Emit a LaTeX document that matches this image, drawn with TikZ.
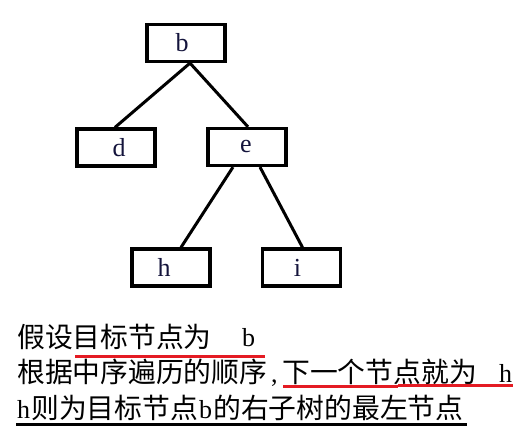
\documentclass[tikz,border=0pt]{standalone}
\usepackage{fontspec}
\setmainfont{Liberation Serif}
\newfontfamily\cjk{Noto Sans CJK SC}
\definecolor{ulred}{RGB}{228,27,35}
\definecolor{lettercol}{RGB}{20,20,60}
\newcommand{\nudge}[2]{\hspace*{#1}\hspace*{#1}#2}
\begin{document}
\begin{tikzpicture}[x=1pt,y=-1pt,
  treebox/.style={draw=black,line width=3.2pt,minimum width=78pt,minimum height=37pt,inner sep=0pt,
    text=lettercol,font=\fontsize{26}{30}\selectfont},
  edge/.style={line width=3pt,black},
  cjktext/.style={anchor=base west,inner sep=0pt,font=\cjk\fontsize{27.8}{32}\selectfont},
  lattext/.style={anchor=base west,inner sep=0pt,font=\fontsize{26}{30}\selectfont},
  redline/.style={ulred,line width=2.5pt},
  blackline/.style={black,line width=3.2pt}]
\useasboundingbox[fill=white] (0,0) rectangle (525,438);

% tree
\node[treebox] (b) at (186,43) {\nudge{-4pt}{b}};
\node[treebox] (d) at (116,147.5) {\nudge{3pt}{d}};
\node[treebox] (e) at (247,147) {\nudge{-1pt}{e}};
\node[treebox] (h) at (171,267.5) {\nudge{-7pt}{h}};
\node[treebox] (i) at (301.5,267.5) {\nudge{-4pt}{i}};

\draw[edge] ([xshift=4pt]b.south) -- ([xshift=-1pt]d.north);
\draw[edge] ([xshift=4pt]b.south) -- ([xshift=1pt]e.north);
\draw[edge] ([xshift=-14pt]e.south) -- ([xshift=10pt]h.north);
\draw[edge] ([xshift=13pt]e.south) -- ([xshift=1pt]i.north);

% text lines
\node[cjktext] (l1a) at (17,348) {假设目标节点为};
\node[lattext] (l1b) at (242,347) {b};

\node[cjktext] (l2a) at (17,383) {根据中序遍历的顺序};
\node[lattext] (l2b) at (271,383) {,};
\node[cjktext] (l2c) at (282,383) {下一个节点就为};
\node[lattext] (l2d) at (499,383) {h};

\node[lattext] (l3a) at (17,418) {h};
\node[cjktext] (l3b) at (31,418) {则为目标节点};
\node[lattext] (l3c) at (199,418) {b};
\node[cjktext] (l3d) at (213,418) {的右子树的最左节点};

% underlines
\draw[redline] (75,356.5) -- (265,356.5);
\draw[redline] (283,386.5) -- (398,386.5);
\draw[redline] (398,385.5) -- (513,385.5);
\draw[blackline] (16,424.5) -- (467,424.5);
\end{tikzpicture}
\end{document}
